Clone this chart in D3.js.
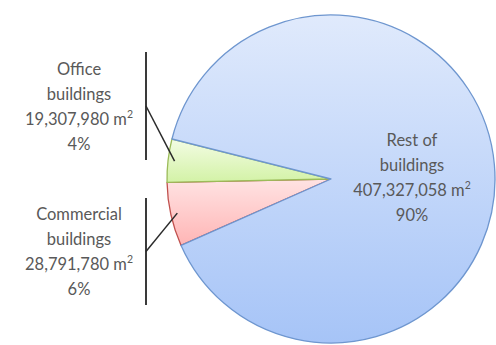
<!DOCTYPE html>
<html>
<head>
<meta charset="utf-8">
<script src="https://cdn.jsdelivr.net/npm/d3@7"></script>
<style>
  html, body { margin: 0; padding: 0; background: #ffffff; }
  svg { display: block; }
  text { font-family: "Lato", "Open Sans", sans-serif; fill: #595959; }
</style>
</head>
<body>
<svg id="chart" width="496" height="345"></svg>
<script>
// Floor area by building type
const categories = ["Commercial buildings", "Office buildings", "Rest of buildings"];
const labelLines = [["Commercial", "buildings"], ["Office", "buildings"], ["Rest of", "buildings"]];
const areas = [28791780, 19307980, 407327058];
const percentLabels = ["6%", "4%", "90%"];

const W = 496, H = 345;
const cx = 331, cy = 179, R = 164;
const svg = d3.select("#chart");
const defs = svg.append("defs");

// slice fills: vertical gradients, light at the top
const palette = [
  { id: "gComm", top: "#ffe3e3", bottom: "#ffb5b5", stroke: "#c0504d" },
  { id: "gOffice", top: "#f3fce4", bottom: "#d3f2a6", stroke: "#9bbb59" },
  { id: "gRest", top: "#e0eafc", bottom: "#a6c4f7", stroke: "#6e96cf" }
];
palette.forEach(p => {
  const g = defs.append("linearGradient").attr("id", p.id)
    .attr("x1", 0).attr("y1", 0).attr("x2", 0).attr("y2", 1);
  g.append("stop").attr("offset", "0%").attr("stop-color", p.top);
  g.append("stop").attr("offset", "100%").attr("stop-color", p.bottom);
});

const total = d3.sum(areas);
// commercial + office slices sit just left of the centre, meeting at 9 o'clock
const start = 1.5 * Math.PI - 2 * Math.PI * areas[0] / total - 0.02;
const pie = d3.pie().sort(null).startAngle(start).endAngle(start + 2 * Math.PI);
const arcs = pie(areas);
const arc = d3.arc().innerRadius(0).outerRadius(R);

const g = svg.append("g").attr("transform", `translate(${cx},${cy})`);
g.selectAll("path.slice").data(arcs).enter().append("path")
  .attr("class", "slice")
  .attr("d", arc)
  .attr("fill", (d, i) => `url(#${palette[i].id})`)
  .attr("stroke", (d, i) => palette[i].stroke)
  .attr("stroke-width", 1.3)
  .attr("stroke-linejoin", "round");

const fmt = d3.format(",");
const lineH = 25;

function drawLabel(x, yMid, i) {
  const t = svg.append("text").attr("text-anchor", "middle").attr("font-size", 16.5);
  const y0 = yMid - 1.5 * lineH + 6;
  t.append("tspan").attr("x", x).attr("y", y0).text(labelLines[i][0]);
  t.append("tspan").attr("x", x).attr("y", y0 + lineH).text(labelLines[i][1]);
  t.append("tspan").attr("x", x).attr("y", y0 + 2 * lineH).text(fmt(areas[i]) + " m");
  t.append("tspan").attr("font-size", 10.5).attr("dy", -7).text("2");
  t.append("tspan").attr("x", x).attr("y", y0 + 3 * lineH).text(percentLabels[i]);
}

// inside label for the large slice
drawLabel(412, 177, 2);

// outside labels with bracket bars and leader lines
const barX = 146;
const outside = [
  { i: 1, y1: 52, y2: 160 },
  { i: 0, y1: 198, y2: 305 }
];
outside.forEach(o => {
  const a = arcs[o.i];
  const mid = (a.startAngle + a.endAngle) / 2;
  const r = R * 0.96;
  const px = cx + r * Math.sin(mid), py = cy - r * Math.cos(mid);
  const ym = (o.y1 + o.y2) / 2;
  svg.append("line").attr("x1", barX).attr("x2", barX).attr("y1", o.y1).attr("y2", o.y2)
    .attr("stroke", "#3a3a3a").attr("stroke-width", 2);
  svg.append("line").attr("x1", barX).attr("y1", ym).attr("x2", px).attr("y2", py)
    .attr("stroke", "#2a2a2a").attr("stroke-width", 1.5);
  drawLabel(79, ym, o.i);
});
</script>
</body>
</html>
